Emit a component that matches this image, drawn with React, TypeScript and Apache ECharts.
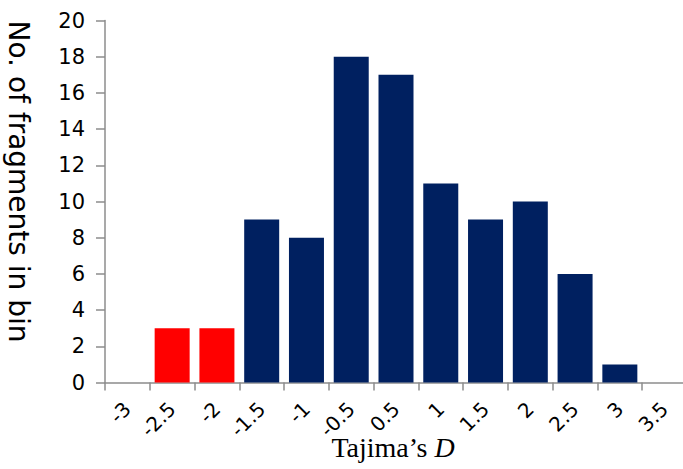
import React, { useEffect, useRef } from "react";
import * as echarts from "echarts";

const binLabels = ["-3", "-2.5", "-2", "-1.5", "-1", "-0.5", "0.5", "1", "1.5", "2", "2.5", "3", "3.5"];
const fragmentCounts = [0, 3, 3, 9, 8, 18, 17, 11, 9, 10, 6, 1, 0];
const highlightedBins = ["-2.5", "-2"];
const yTicks = { min: 0, max: 20, interval: 2 };

const NAVY = "#002060";
const RED = "#ff0000";
const AXIS_GRAY = "#8c8c8c";

export default function App() {
  const ref = useRef<HTMLDivElement>(null);
  useEffect(() => {
    if (!ref.current) return;
    const chart = echarts.init(ref.current, undefined, { renderer: "svg" });
    chart.setOption({
      animation: false,
      backgroundColor: "#ffffff",
      grid: { left: 105, top: 20.5, width: 582, height: 362, containLabel: false, outerBoundsMode: "none" },
      xAxis: {
        type: "category",
        data: binLabels,
        boundaryGap: true,
        name: "Tajima’s {i|D}",
        nameLocation: "middle",
        nameGap: 51,
        nameMoveOverlap: false,
        nameTextStyle: {
          fontFamily: "Liberation Serif",
          fontSize: 28,
          color: "#000",
          padding: [0, 6, 0, 0],
          rich: { i: { fontFamily: "Liberation Serif", fontSize: 28, fontStyle: "italic", color: "#000" } },
        },
        axisLine: { show: true, lineStyle: { color: AXIS_GRAY, width: 1.5 } },
        axisTick: { show: true, alignWithLabel: false, length: 8, lineStyle: { color: AXIS_GRAY, width: 1.5 } },
        axisLabel: {
          rotate: 45,
          margin: 23,
          interval: 0,
          fontFamily: "DejaVu Sans",
          fontSize: 20,
          color: "#000",
        },
        splitLine: { show: false },
      },
      yAxis: {
        type: "value",
        min: yTicks.min,
        max: yTicks.max,
        interval: yTicks.interval,
        name: "No. of fragments in bin",
        nameLocation: "middle",
        nameRotate: -90,
        nameGap: 73,
        nameMoveOverlap: false,
        nameTextStyle: {
          fontFamily: "DejaVu Sans",
          fontSize: 28,
          color: "#000",
          padding: [0, 40, 0, 0],
        },
        axisLine: { show: true, lineStyle: { color: AXIS_GRAY, width: 1.5 } },
        axisTick: { show: true, length: 9, lineStyle: { color: AXIS_GRAY, width: 1.5 } },
        axisLabel: { margin: 20, fontFamily: "DejaVu Sans", fontSize: 21, color: "#000" },
        splitLine: { show: false },
      },
      series: [
        {
          type: "bar",
          barWidth: 35,
          data: fragmentCounts.map((v, i) => ({
            value: v,
            itemStyle: { color: highlightedBins.includes(binLabels[i]) ? RED : NAVY },
          })),
        },
      ],
    });
    return () => chart.dispose();
  }, []);
  return <div ref={ref} style={{ position: "fixed", left: 0, top: 0, width: 683, height: 469 }} />;
}
